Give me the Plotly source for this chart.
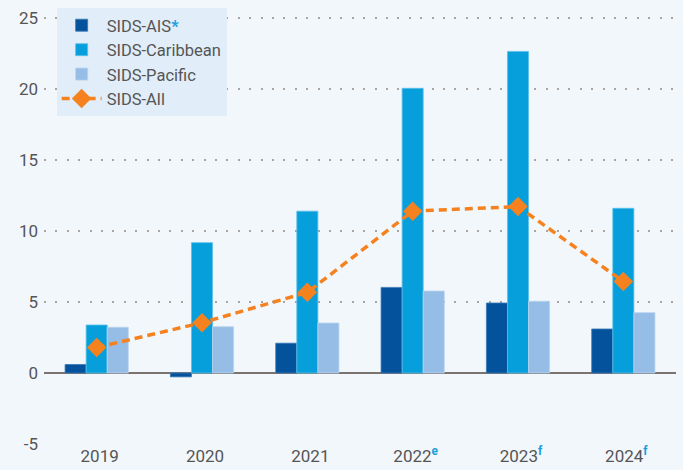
import plotly.graph_objects as go

years = ["2019", "2020", "2021", "2022", "2023", "2024"]
tick_labels = ["2019", "2020", "2021",
               "2022<sup><b><span style='color:#18a0de'>e</span></b></sup>",
               "2023<sup><b><span style='color:#18a0de'>f</span></b></sup>",
               "2024<sup><b><span style='color:#18a0de'>f</span></b></sup>"]
sids_ais = [0.6, -0.27, 2.1, 6.03, 4.93, 3.1]
sids_caribbean = [3.38, 9.18, 11.4, 20.05, 22.65, 11.6]
sids_pacific = [3.22, 3.26, 3.52, 5.77, 5.05, 4.25]
sids_all = [1.8, 3.54, 5.68, 11.4, 11.72, 6.45]

y_ticks = [-5, 0, 5, 10, 15, 20, 25]
y_tick_labels = ["-5", "0", "5", "10", "15", "20", "25"]

BG = "#f2f7fc"

fig = go.Figure()
fig.add_trace(go.Bar(x=years, y=sids_ais,
                     name="SIDS-AIS<b><span style='color:#18a0de'>*</span></b>",
                     marker=dict(color="#03529b", line=dict(color="#3a78b5", width=0.8))))
fig.add_trace(go.Bar(x=years, y=sids_caribbean, name="SIDS-Caribbean",
                     marker=dict(color="#069fdb", line=dict(color="#5cc0ea", width=0.8))))
fig.add_trace(go.Bar(x=years, y=sids_pacific, name="SIDS-Pacific",
                     marker=dict(color="#95bde5", line=dict(color="#b7d3ef", width=0.8))))
fig.add_trace(go.Scatter(x=years, y=sids_all, name="SIDS-All", mode="lines+markers",
                         line=dict(color="#f5821f", width=3.5, dash="8px,5px"),
                         marker=dict(symbol="diamond", size=15, color="#f5821f")))

fig.update_layout(
    width=683, height=470,
    margin=dict(l=44, r=7, t=0, b=26),
    paper_bgcolor=BG, plot_bgcolor=BG,
    barmode="group", bargap=0.4, bargroupgap=0,
    font=dict(family="Roboto", size=17, color="#555555"),
    showlegend=True,
    legend=dict(x=0.02, y=0.982, xanchor="left", yanchor="top",
                bgcolor="#e1edf8", font=dict(size=16.5, color="#555555"),
                traceorder="normal", itemwidth=40, tracegroupgap=0),
    xaxis=dict(tickmode="array", tickvals=years, ticktext=tick_labels,
               showgrid=False, showline=False, ticks="", ticklabelshift=3,
               tickfont=dict(size=17, color="#555555")),
    yaxis=dict(range=[-5, 26.27], tickvals=y_ticks, ticktext=y_tick_labels,
               showgrid=True,
               gridcolor="#aaa4a1", gridwidth=1.6, griddash="2px,9.4px",
               zeroline=True, zerolinecolor="#7a7370", zerolinewidth=2,
               ticks="", ticklabelstandoff=5, showline=False,
               ticklabeloverflow="allow",
               tickfont=dict(size=17, color="#555555")),
)

fig.write_html("out.html",
               config={"displayModeBar": False},
               post_script="document.body.style.margin='0';"
                           "document.body.style.background='" + BG + "';")
